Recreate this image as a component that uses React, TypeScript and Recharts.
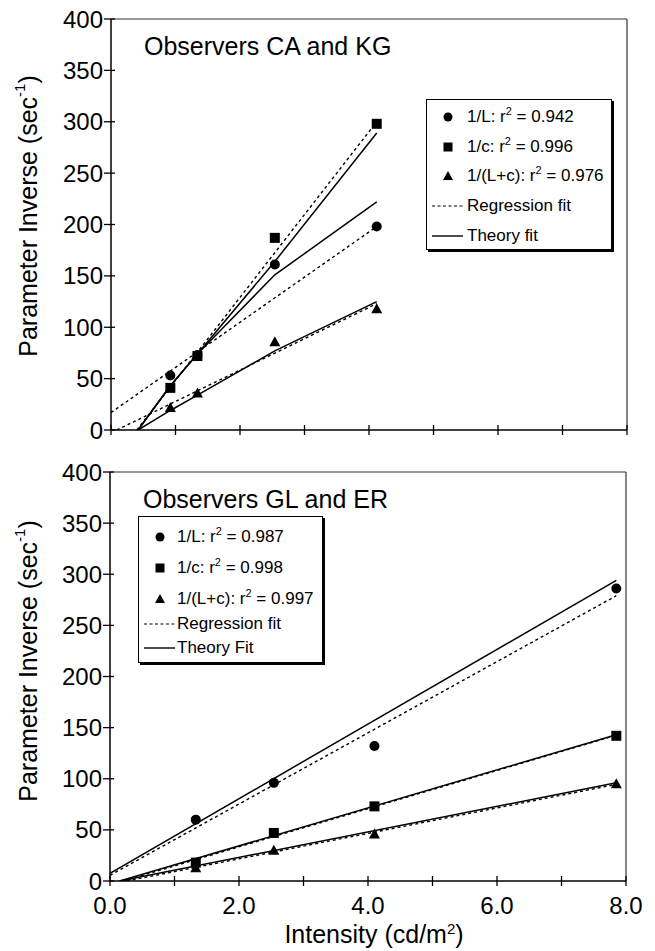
import React from 'react';
import { ComposedChart, Scatter, XAxis, YAxis, ReferenceLine, Legend, Customized } from 'recharts';

const FONT = '"Liberation Sans", Arial, Helvetica, sans-serif';

// ---------- Top panel: Observers CA and KG ----------
const topIntensity = [0.92, 1.34, 2.54, 4.12];
const topInvL = [53, 73, 161, 198];
const topInvC = [41, 72, 187, 298];
const topInvLC = [22, 36, 86, 118];

const topRegLX = [0, 4.12];
const topRegLY = [17, 198];
const topRegCX = [0.4, 4.12];
const topRegCY = [0, 300];
const topRegLCX = [0.09, 4.12];
const topRegLCY = [0, 123];

const topTheoryX = [0.42, 0.92, 1.34, 2.54, 4.12];
const topTheoryL = [0, 43, 74, 151, 222];
const topTheoryC = [0, 43, 74, 164, 289];
const topTheoryLC = [0, 19, 34, 77, 125];

const topR2 = ['0.942', '0.996', '0.976'];

// ---------- Bottom panel: Observers GL and ER ----------
const botIntensity = [1.33, 2.54, 4.1, 7.85];
const botInvL = [60, 96, 132, 286];
const botInvC = [18, 47, 73, 142];
const botInvLC = [13, 30, 46, 95];

const botRegLX = [0, 7.85];
const botRegLY = [5.6, 279];
const botRegCX = [0.21, 7.85];
const botRegCY = [0, 142.6];
const botRegLCX = [0.26, 7.85];
const botRegLCY = [0, 94.5];

const botTheoryLX = [0, 7.85];
const botTheoryLY = [7.5, 294];
const botTheoryCX = [0.15, 7.85];
const botTheoryCY = [0, 143];
const botTheoryLCX = [0.15, 7.85];
const botTheoryLCY = [0, 96];

const botR2 = ['0.987', '0.998', '0.997'];

// ---------- Axes ----------
const seriesNames = ['1/L', '1/c', '1/(L+c)'];
const xTicks = [0, 1, 2, 3, 4, 5, 6, 7, 8];
const xLabelled = [0, 2, 4, 6, 8];
const yTicks = [0, 50, 100, 150, 200, 250, 300, 350, 400];

const zip = (xs: number[], ys: number[]) => xs.map((x, i) => ({ x, y: ys[i] }));

const Dot = (p: any) => <circle cx={p.cx} cy={p.cy} r={5} fill="#000" />;
const Sq = (p: any) => <rect x={p.cx - 5} y={p.cy - 5} width={10} height={10} fill="#000" />;
const Tri = (p: any) => (
  <polygon points={`${p.cx},${p.cy - 5.5} ${p.cx - 5.5},${p.cy + 4.5} ${p.cx + 5.5},${p.cy + 4.5}`} fill="#000" />
);
const NoShape = () => <g />;

const dashed = { stroke: '#000', strokeWidth: 1.4, strokeDasharray: '3 3' };
const solid = { stroke: '#000', strokeWidth: 1.5 };

const YTick = (p: any) => (
  <g>
    <line x1={p.x - 7} x2={p.x + 4} y1={p.y} y2={p.y} stroke="#000" strokeWidth={1.3} />
    <text x={p.x - 8} y={p.y} textAnchor="end" dominantBaseline="central" fontSize={24} fontFamily={FONT} fill="#000">
      {p.payload.value}
    </text>
  </g>
);

const XTickTop = (p: any) => (
  <line x1={p.x} x2={p.x} y1={p.y - 5} y2={p.y + 5} stroke="#000" strokeWidth={1.3} />
);

const XTickBottom = (p: any) => (
  <g>
    <line x1={p.x} x2={p.x} y1={p.y - 5} y2={p.y + 5} stroke="#000" strokeWidth={1.3} />
    {xLabelled.includes(p.payload.value) ? (
      <text x={p.x} y={p.y + 24} textAnchor="middle" dominantBaseline="central" fontSize={24} fontFamily={FONT} fill="#000">
        {p.payload.value.toFixed(1)}
      </text>
    ) : null}
  </g>
);

const YLabel = ({ cx, cy }: { cx: number; cy: number }) => (
  <text
    transform={`translate(${cx},${cy}) rotate(-90)`}
    textAnchor="middle"
    dominantBaseline="central"
    fontSize={25}
    fontFamily={FONT}
    fill="#000"
  >
    Parameter Inverse (sec
    <tspan dy={-9} fontSize={15}>-1</tspan>
    <tspan dy={9}>)</tspan>
  </text>
);

const TopTexts = () => (
  <g>
    <text x={144} y={55} fontSize={25} fontFamily={FONT} fill="#000">Observers CA and KG</text>
    <YLabel cx={28} cy={216} />
  </g>
);

const BottomTexts = () => (
  <g>
    <text x={143} y={68} fontSize={25} fontFamily={FONT} fill="#000">Observers GL and ER</text>
    <YLabel cx={28} cy={221} />
    <text x={374} y={503} textAnchor="middle" fontSize={25} fontFamily={FONT} fill="#000">
      Intensity (cd/m
      <tspan dy={-9} fontSize={15}>2</tspan>
      <tspan dy={9}>)</tspan>
    </text>
  </g>
);

type Row = { kind: string; label: React.ReactNode; dy: number };

const r2Label = (name: string, r2: string) => (
  <>
    {name}: r<sup style={{ fontSize: 11, lineHeight: 0 }}>2</sup> = {r2}
  </>
);

const Marker = ({ kind }: { kind: string }) => {
  if (kind === 'circle') return <circle cx={21} cy={12} r={4.5} fill="#000" />;
  if (kind === 'square') return <rect x={16.5} y={7.5} width={9} height={9} fill="#000" />;
  if (kind === 'triangle') return <polygon points="21,7 16,16 26,16" fill="#000" />;
  if (kind === 'dash') return <line x1={5} x2={36} y1={12} y2={12} stroke="#000" strokeWidth={1.2} strokeDasharray="3 2.5" />;
  return <line x1={5} x2={36} y1={12} y2={12} stroke="#000" strokeWidth={1.4} />;
};

const makeLegend = (rows: Row[], textLeft: number, w: number, h: number) => () => (
  <div
    style={{
      position: 'relative',
      width: w,
      height: h,
      border: '1.5px solid #000',
      boxShadow: '2px 2px 0 #000',
      background: '#fff',
      boxSizing: 'border-box',
      fontFamily: FONT,
      fontSize: 17,
      color: '#000',
    }}
  >
    {rows.map((r, i) => (
      <div key={i} style={{ position: 'absolute', left: 0, top: r.dy - 13.5, height: 24, width: '100%' }}>
        <svg width={40} height={24} style={{ position: 'absolute', left: 0, top: 0 }}>
          <Marker kind={r.kind} />
        </svg>
        <span style={{ position: 'absolute', left: textLeft, top: 0, lineHeight: '24px', whiteSpace: 'nowrap' }}>
          {r.label}
        </span>
      </div>
    ))}
  </div>
);

const markerKinds = ['circle', 'square', 'triangle'];

const topRows: Row[] = [
  ...seriesNames.map((n, i) => ({ kind: markerKinds[i], label: r2Label(n, topR2[i]), dy: [18, 48, 77][i] })),
  { kind: 'dash', label: 'Regression fit', dy: 107 },
  { kind: 'solid', label: 'Theory fit', dy: 137 },
];

const botRows: Row[] = [
  ...seriesNames.map((n, i) => ({ kind: markerKinds[i], label: r2Label(n, botR2[i]), dy: [21, 52, 83][i] })),
  { kind: 'dash', label: 'Regression fit', dy: 108 },
  { kind: 'solid', label: 'Theory Fit', dy: 132 },
];

const TopLegend = makeLegend(topRows, 40, 186, 151);
const BotLegend = makeLegend(botRows, 38, 185, 147);

export default function App() {
  return (
    <div style={{ position: 'absolute', left: 0, top: 0, width: 655, height: 951, background: '#fff' }}>
      <div style={{ position: 'absolute', left: 0, top: 0 }}>
        <ComposedChart width={655} height={450} margin={{ top: 19, right: 28, left: 51, bottom: 0 }}>
          <XAxis
            dataKey="x"
            type="number"
            domain={[0, 8]}
            ticks={xTicks}
            interval={0}
            allowDataOverflow
            height={20}
            tickSize={0}
            tickMargin={0}
            tickLine={false}
            tick={XTickTop}
            axisLine={{ stroke: '#000', strokeWidth: 1.5 }}
          />
          <YAxis
            dataKey="y"
            type="number"
            domain={[0, 400]}
            ticks={yTicks}
            interval={0}
            allowDataOverflow
            width={60}
            tickSize={0}
            tickMargin={0}
            tickLine={false}
            tick={YTick}
            axisLine={{ stroke: '#000', strokeWidth: 1.5 }}
          />
          <ReferenceLine y={400} stroke="#333" strokeWidth={1.2} />
          <ReferenceLine x={8} stroke="#333" strokeWidth={1.2} />
          <Scatter data={zip(topRegLX, topRegLY)} line={dashed} shape={NoShape} isAnimationActive={false} />
          <Scatter data={zip(topRegCX, topRegCY)} line={dashed} shape={NoShape} isAnimationActive={false} />
          <Scatter data={zip(topRegLCX, topRegLCY)} line={dashed} shape={NoShape} isAnimationActive={false} />
          <Scatter data={zip(topTheoryX, topTheoryL)} line={solid} shape={NoShape} isAnimationActive={false} />
          <Scatter data={zip(topTheoryX, topTheoryC)} line={solid} shape={NoShape} isAnimationActive={false} />
          <Scatter data={zip(topTheoryX, topTheoryLC)} line={solid} shape={NoShape} isAnimationActive={false} />
          <Scatter data={zip(topIntensity, topInvL)} shape={Dot} isAnimationActive={false} />
          <Scatter data={zip(topIntensity, topInvC)} shape={Sq} isAnimationActive={false} />
          <Scatter data={zip(topIntensity, topInvLC)} shape={Tri} isAnimationActive={false} />
          <Customized component={TopTexts} />
          <Legend
            layout="vertical"
            align="center"
            verticalAlign="middle"
            content={TopLegend}
            wrapperStyle={{ left: 426, top: 99, width: 186, height: 151 }}
          />
        </ComposedChart>
      </div>
      <div style={{ position: 'absolute', left: 0, top: 440 }}>
        <ComposedChart width={655} height={511} margin={{ top: 32, right: 29, left: 50, bottom: 0 }}>
          <XAxis
            dataKey="x"
            type="number"
            domain={[0, 8]}
            ticks={xTicks}
            interval={0}
            allowDataOverflow
            height={70}
            tickSize={0}
            tickMargin={0}
            tickLine={false}
            tick={XTickBottom}
            axisLine={{ stroke: '#000', strokeWidth: 1.5 }}
          />
          <YAxis
            dataKey="y"
            type="number"
            domain={[0, 400]}
            ticks={yTicks}
            interval={0}
            allowDataOverflow
            width={60}
            tickSize={0}
            tickMargin={0}
            tickLine={false}
            tick={YTick}
            axisLine={{ stroke: '#000', strokeWidth: 1.5 }}
          />
          <ReferenceLine y={400} stroke="#333" strokeWidth={1.2} />
          <ReferenceLine x={8} stroke="#333" strokeWidth={1.2} />
          <Scatter data={zip(botRegLX, botRegLY)} line={dashed} shape={NoShape} isAnimationActive={false} />
          <Scatter data={zip(botRegCX, botRegCY)} line={dashed} shape={NoShape} isAnimationActive={false} />
          <Scatter data={zip(botRegLCX, botRegLCY)} line={dashed} shape={NoShape} isAnimationActive={false} />
          <Scatter data={zip(botTheoryLX, botTheoryLY)} line={solid} shape={NoShape} isAnimationActive={false} />
          <Scatter data={zip(botTheoryCX, botTheoryCY)} line={solid} shape={NoShape} isAnimationActive={false} />
          <Scatter data={zip(botTheoryLCX, botTheoryLCY)} line={solid} shape={NoShape} isAnimationActive={false} />
          <Scatter data={zip(botIntensity, botInvL)} shape={Dot} isAnimationActive={false} />
          <Scatter data={zip(botIntensity, botInvC)} shape={Sq} isAnimationActive={false} />
          <Scatter data={zip(botIntensity, botInvLC)} shape={Tri} isAnimationActive={false} />
          <Customized component={BottomTexts} />
          <Legend
            layout="vertical"
            align="center"
            verticalAlign="middle"
            content={BotLegend}
            wrapperStyle={{ left: 138, top: 76, width: 185, height: 147 }}
          />
        </ComposedChart>
      </div>
    </div>
  );
}
